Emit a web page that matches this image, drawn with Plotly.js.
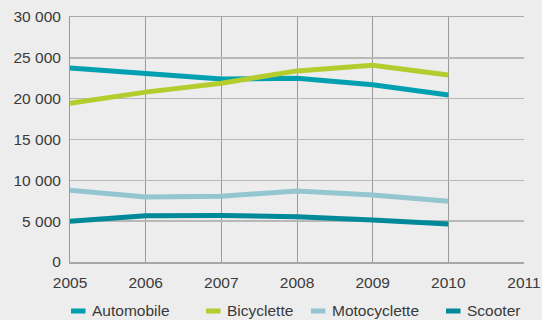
<!DOCTYPE html>
<html><head><meta charset="utf-8">
<script src="https://cdn.plot.ly/plotly-3.0.1.min.js"></script>
<style>body{margin:0;background:#ededed}#c{width:542px;height:320px}</style>
</head><body><div id="c"></div>
<script>
const years = [2005, 2006, 2007, 2008, 2009, 2010];
const automobile = [23750, 23150, 22400, 22500, 21700, 20450];
const bicyclette = [19450, 20800, 21900, 23400, 24100, 22900];
const motocyclette = [8800, 7950, 8050, 8700, 8200, 7450];
const scooter = [5000, 5650, 5700, 5550, 5150, 4650];
const names = ['Automobile', 'Bicyclette', 'Motocyclette', 'Scooter'];
const colors = ['#00a0b0', '#b5cc2e', '#93c6d0', '#008999'];
const series = [automobile, bicyclette, motocyclette, scooter];
const yTicks = [0, 5000, 10000, 15000, 20000, 25000, 30000];
const yTickText = ['0', '5 000', '10 000', '15 000', '20 000', '25 000', '30 000'];
const xTicks = [2005, 2006, 2007, 2008, 2009, 2010, 2011];

const W = 542, H = 320, ML = 70, MR = 18, MT = 17, MB = 58;
const pw = W - ML - MR, ph = H - MT - MB;
const px = v => (v - ML) / pw, py = v => (H - MB - v) / ph;
const legendStarts = [71, 206, 311, 446];
const legendY = 311;

const traces = series.map((s, i) => ({
  x: years, y: s, name: names[i], type: 'scatter', mode: 'lines',
  line: {color: colors[i], width: 5}, showlegend: false
}));
const shapes = [], annotations = [];
names.forEach((n, i) => {
  shapes.push({type: 'line', xref: 'paper', yref: 'paper',
    x0: px(legendStarts[i]), x1: px(legendStarts[i] + 14.5), y0: py(legendY), y1: py(legendY),
    line: {color: colors[i], width: 5}});
  annotations.push({xref: 'paper', yref: 'paper', x: px(legendStarts[i] + 19), y: py(legendY - 1),
    xanchor: 'left', yanchor: 'middle', text: n, showarrow: false,
    font: {size: 15.5, color: '#3a3a3a'}});
});
const layout = {
  width: W, height: H,
  paper_bgcolor: '#ededed', plot_bgcolor: '#ededed',
  margin: {l: ML, r: MR, t: MT, b: MB},
  font: {family: 'Liberation Sans, Arial, sans-serif', size: 15.5, color: '#3a3a3a'},
  showlegend: false, shapes, annotations,
  xaxis: {range: [2005, 2011], tickvals: xTicks, ticktext: xTicks.map(String),
    showgrid: true, gridcolor: '#9a9a9a', gridwidth: 1, zeroline: false,
    showline: true, linecolor: '#a8a8a8', linewidth: 1.5, mirror: true, ticks: '', ticklen: 0,
    ticklabelstandoff: 6},
  yaxis: {range: [0, 30000], tickvals: yTicks, ticktext: yTickText,
    showgrid: true, gridcolor: '#b8b8b8', gridwidth: 1.5, zeroline: false,
    showline: true, linecolor: '#9a9a9a', linewidth: 1, ticks: '', ticklen: 0,
    ticklabelstandoff: 5}
};
Plotly.newPlot('c', traces, layout, {displayModeBar: false, staticPlot: true});
</script></body></html>
